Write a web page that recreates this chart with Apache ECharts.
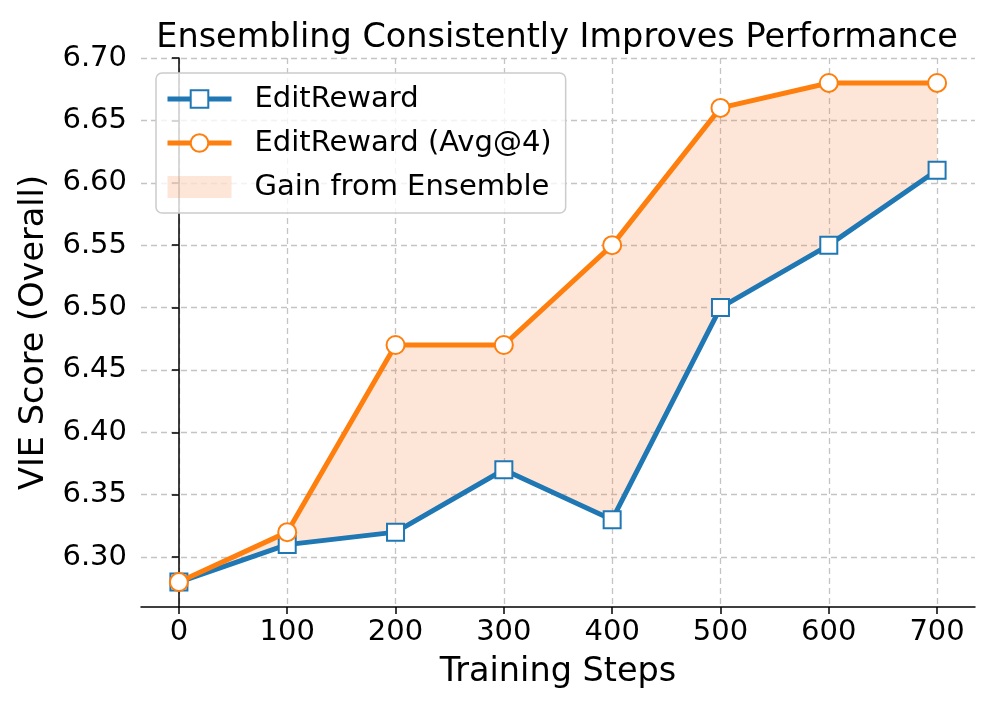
<!DOCTYPE html>
<html><head><meta charset="utf-8">
<script src="https://cdn.jsdelivr.net/npm/echarts@6/dist/echarts.min.js"></script>
<style>html,body{margin:0;padding:0;background:#fff}#c{width:997px;height:712px}</style>
</head><body><div id="c"></div>
<script>
const steps = [0, 100, 200, 300, 400, 500, 600, 700];
const editReward = [6.28, 6.31, 6.32, 6.37, 6.33, 6.50, 6.55, 6.61];
const editRewardAvg4 = [6.28, 6.32, 6.47, 6.47, 6.55, 6.66, 6.68, 6.68];
const xTicks = [0, 100, 200, 300, 400, 500, 600, 700];
const yTicks = [6.30, 6.35, 6.40, 6.45, 6.50, 6.55, 6.60, 6.65, 6.70];

const BLUE = '#1f77b4', ORANGE = '#ff7f0e', FILL = 'rgba(245,130,60,0.2)';
const FONT = 'DejaVu Sans';
const pair = (ys) => steps.map((s, i) => [s, ys[i]]);

const chart = echarts.init(document.getElementById('c'), null, {renderer: 'canvas'});
chart.setOption({
  animation: false,
  textStyle: {fontFamily: FONT},
  title: {text: 'Ensembling Consistently Improves Performance', left: 552, textAlign: 'center', top: 16,
    textStyle: {fontFamily: FONT, fontSize: 33.5, fontWeight: 'normal', color: '#000'}},
  grid: {left: 141, right: 22, top: 58, bottom: 105},
  legend: {
    left: 156, top: 73, orient: 'vertical', itemWidth: 64, itemHeight: 22, itemGap: 12,
    padding: [10, 14, 10, 9], borderColor: '#cccccc', borderWidth: 1.5, borderRadius: 6,
    backgroundColor: 'rgba(255,255,255,0.8)',
    textStyle: {fontFamily: FONT, fontSize: 29, color: '#000', lineHeight: 32, padding: [0, 0, 0, 18]},
    data: [
      {name: 'EditReward', lineStyle: {width: 5, color: BLUE}},
      {name: 'EditReward (Avg@4)', lineStyle: {width: 5, color: ORANGE}},
      {name: 'Gain from Ensemble', icon: 'rect', itemStyle: {color: FILL, borderWidth: 0}}
    ]
  },
  xAxis: {
    type: 'value', min: -35, max: 735,
    name: 'Training Steps', nameLocation: 'middle', nameGap: 48,
    nameTextStyle: {fontFamily: FONT, fontSize: 33.5, color: '#000'},
    axisLine: {lineStyle: {color: '#000', width: 1.5}},
    axisTick: {show: true, length: 7, lineStyle: {color: '#000', width: 1.5}, customValues: xTicks},
    axisLabel: {fontFamily: FONT, fontSize: 29, color: '#000', margin: 11, customValues: xTicks},
    splitLine: {show: true, lineStyle: {color: '#c4c4c4', type: [6, 4], width: 1.3}}
  },
  yAxis: {
    type: 'value', min: 6.26, max: 6.70,
    name: 'VIE Score (Overall)', nameLocation: 'middle', nameGap: 86,
    nameTextStyle: {fontFamily: FONT, fontSize: 33.5, color: '#000'},
    axisLine: {show: true, lineStyle: {color: '#000', width: 1.5}},
    axisTick: {show: true, length: 7, lineStyle: {color: '#000', width: 1.5}, customValues: yTicks},
    axisLabel: {fontFamily: FONT, fontSize: 29, color: '#000', margin: 14, customValues: yTicks,
      formatter: v => v.toFixed(2)},
    splitLine: {show: true, lineStyle: {color: '#c4c4c4', type: [6, 4], width: 1.3}}
  },
  series: [
    {name: 'Gain from Ensemble', type: 'custom', data: [0], silent: true, z: 1,
      itemStyle: {color: FILL},
      renderItem: (params, api) => {
        const top = steps.map((s, i) => api.coord([s, editRewardAvg4[i]]));
        const bot = steps.map((s, i) => api.coord([s, editReward[i]])).reverse();
        return {type: 'polygon', shape: {points: top.concat(bot)}, style: {fill: FILL, stroke: null}};
      }},
    {name: 'EditReward', type: 'line', data: pair(editReward), symbol: 'rect', symbolSize: 17,
      lineStyle: {color: BLUE, width: 5}, itemStyle: {color: '#fff', borderColor: BLUE, borderWidth: 2},
      z: 3},
    {name: 'EditReward (Avg@4)', type: 'line', data: pair(editRewardAvg4), symbol: 'circle', symbolSize: 18,
      lineStyle: {color: ORANGE, width: 5}, itemStyle: {color: '#fff', borderColor: ORANGE, borderWidth: 2},
      z: 4}
  ]
});
</script></body></html>
